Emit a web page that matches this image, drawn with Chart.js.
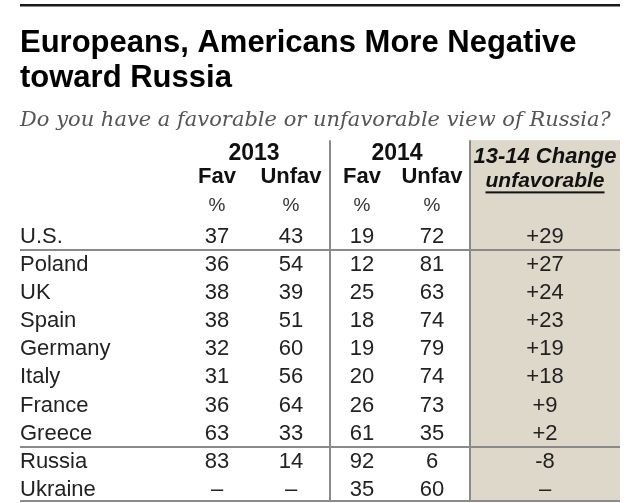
<!DOCTYPE html>
<html>
<head>
<meta charset="utf-8">
<script src="https://cdn.jsdelivr.net/npm/chart.js@4.4.1/dist/chart.umd.min.js"></script>
<style>
html,body{margin:0;padding:0;background:#fff;}
#wrap{width:640px;height:503px;position:relative;}
</style>
</head>
<body>
<div id="wrap"><canvas id="c"></canvas></div>
<script>
// ---- data ----
const countries = ['U.S.', 'Poland', 'UK', 'Spain', 'Germany', 'Italy', 'France', 'Greece', 'Russia', 'Ukraine'];
const fav2013   = [37, 36, 38, 38, 32, 31, 36, 63, 83, null];
const unfav2013 = [43, 54, 39, 51, 60, 56, 64, 33, 14, null];
const fav2014   = [19, 12, 25, 18, 19, 20, 26, 61, 92, 35];
const unfav2014 = [72, 81, 63, 74, 79, 74, 73, 35, 6, 60];
const change1314 = [29, 27, 24, 23, 19, 18, 9, 2, -8, null];
const yearLabels = ['2013', '2014'];
const colLabels = ['Fav', 'Unfav', 'Fav', 'Unfav'];
const titleLines = ['Europeans, Americans More Negative', 'toward Russia'];
const subtitleText = 'Do you have a favorable or unfavorable view of Russia?';
const changeHeader = ['13-14 Change', 'unfavorable'];

// ---- layout (not data) ----
const headerRows = ['', '', ''];
const yLabels = headerRows.concat(countries);
const colX = [19.4, 34.2, 48.4, 62.4, 85];   // x-scale positions of the value columns
const yearX = [26.8, 55.4];
const divX = 42;      // year divider
const boxX = [70, 100];
const FONT = "'Liberation Sans', Arial, sans-serif";

function fmtVal(v){ return v === null ? '\u2013' : String(v); }
function fmtChange(v){ return v === null ? '\u2013' : (v > 0 ? '+' + v : String(v)); }

const columns = [
  {vals: fav2013, fmt: fmtVal},
  {vals: unfav2013, fmt: fmtVal},
  {vals: fav2014, fmt: fmtVal},
  {vals: unfav2014, fmt: fmtVal},
  {vals: change1314, fmt: fmtChange}
];

const datasets = columns.map((col, c) => ({
  data: countries.map((name, i) => ({x: colX[c], y: name, v: col.vals[i]})),
  pointRadius: 0,
  pointHoverRadius: 0,
  showLine: false
}));

const tablePlugin = {
  id: 'tablePlugin',
  beforeDraw(chart){
    const ctx = chart.ctx;
    const ca = chart.chartArea;
    ctx.save();
    ctx.fillStyle = '#1a1a1a';
    ctx.fillRect(20, 4, ca.right - 20, 2.5);
    ctx.restore();
  },
  beforeDatasetsDraw(chart){
    const ctx = chart.ctx;
    const x = chart.scales.x, y = chart.scales.y;
    const ca = chart.chartArea;
    const top = ca.top + 3, bottom = ca.bottom - 2;
    ctx.save();
    const bx0 = x.getPixelForValue(boxX[0]), bx1 = x.getPixelForValue(boxX[1]);
    ctx.fillStyle = '#ddd8ca';
    ctx.fillRect(bx0, top, bx1 - bx0, bottom - top);
    ctx.strokeStyle = '#8a8a8a';
    ctx.lineWidth = 2;
    [divX, boxX[0]].forEach(v => {
      const px = Math.round(x.getPixelForValue(v));
      ctx.beginPath(); ctx.moveTo(px, top); ctx.lineTo(px, bottom); ctx.stroke();
    });
    const h = headerRows.length;
    const mid = (a, b) => (y.getPixelForValue(countries.indexOf(a) + h) + y.getPixelForValue(countries.indexOf(b) + h)) / 2;
    const seps = [mid('U.S.', 'Poland'), mid('Greece', 'Russia'), bottom];
    seps.forEach(py => {
      py = Math.round(py);
      ctx.beginPath(); ctx.moveTo(20, py); ctx.lineTo(bx1, py); ctx.stroke();
    });
    ctx.restore();
  },
  afterDatasetsDraw(chart){
    const ctx = chart.ctx;
    const x = chart.scales.x, y = chart.scales.y;
    ctx.save();
    ctx.textAlign = 'center';
    ctx.textBaseline = 'middle';
    ctx.font = '22px ' + FONT;
    ctx.fillStyle = '#222';
    chart.data.datasets.forEach((ds, c) => {
      const meta = chart.getDatasetMeta(c);
      meta.data.forEach((el, i) => {
        ctx.fillText(columns[c].fmt(ds.data[i].v), el.x, el.y + 1);
      });
    });
    ctx.font = 'bold 23px ' + FONT;
    ctx.fillStyle = '#111';
    yearLabels.forEach((t, i) => ctx.fillText(t, x.getPixelForValue(yearX[i]), y.getPixelForValue(0) + 2));
    ctx.font = 'bold 22px ' + FONT;
    colLabels.forEach((t, i) => ctx.fillText(t, x.getPixelForValue(colX[i]), y.getPixelForValue(1) - 2));
    ctx.font = '19px ' + FONT;
    ctx.fillStyle = '#333';
    colLabels.forEach((t, i) => ctx.fillText('%', x.getPixelForValue(colX[i]), y.getPixelForValue(2) - 2));
    ctx.fillStyle = '#111';
    ctx.font = 'italic bold 22px ' + FONT;
    const cx = x.getPixelForValue(colX[4]);
    ctx.fillText(changeHeader[0], cx, y.getPixelForValue(0) + 6);
    ctx.font = 'italic bold 21px ' + FONT;
    const uy = y.getPixelForValue(1) + 2;
    ctx.fillText(changeHeader[1], cx, uy);
    const w = ctx.measureText(changeHeader[1]).width;
    ctx.fillRect(cx - w / 2, uy + 10, w, 2);
    ctx.restore();
  }
};

new Chart(document.getElementById('c'), {
  type: 'scatter',
  data: { datasets },
  options: {
    responsive: true,
    maintainAspectRatio: false,
    animation: false,
    events: [],
    layout: { padding: { left: 20, right: 20, top: 0, bottom: 0 } },
    plugins: {
      legend: { display: false },
      tooltip: { enabled: false },
      title: {
        display: true,
        text: titleLines,
        align: 'start',
        color: '#000',
        font: { family: FONT, size: 31, weight: 'bold', lineHeight: 1.16 },
        padding: { top: 25, bottom: 11 }
      },
      subtitle: {
        display: true,
        text: subtitleText,
        align: 'start',
        color: '#555',
        font: { family: "'DejaVu Serif', 'Liberation Serif', serif", size: 21, style: 'italic', lineHeight: 1.25 },
        padding: { top: 0, bottom: 3 }
      }
    },
    scales: {
      x: { type: 'linear', min: 0, max: 100, display: false },
      y: {
        type: 'category',
        labels: yLabels,
        offset: true,
        grid: { display: false },
        border: { display: false },
        afterFit(scale){ scale.width = 100; scale.paddingTop = 0; scale.paddingBottom = 0; },
        ticks: {
          autoSkip: false,
          crossAlign: 'far',
          padding: 0,
          labelOffset: 1,
          color: '#222',
          font: { family: FONT, size: 22 }
        }
      }
    }
  },
  plugins: [tablePlugin]
});
</script>
</body>
</html>
